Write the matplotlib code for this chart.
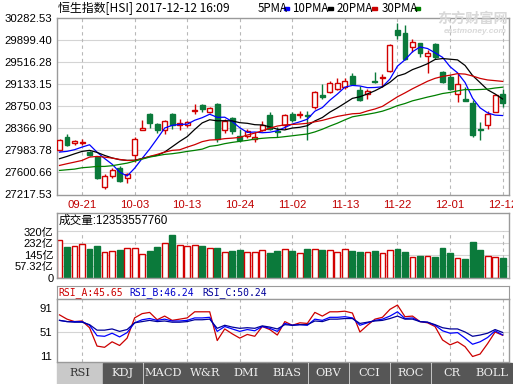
import matplotlib
matplotlib.use('Agg')
import matplotlib.pyplot as plt
from matplotlib.patches import Rectangle

plt.rcParams['font.family'] = ['Liberation Sans', 'Noto Sans CJK SC', 'DejaVu Sans']

# ---------------- data ----------------
dates = ['09-21', '10-03', '10-13', '10-24', '11-02', '11-13', '11-22', '12-01', '12-12']
date_idx = [3, 10, 17, 24, 31, 38, 45, 52, 59]

opens = [27997, 28217, 28119, 28112, 27955, 27868, 27345, 27531, 27683, 27509,
         27910, 28334, 28625, 28439, 28346, 28625, 28433, 28433, 28670, 28782,
         28653, 28800, 28346, 28555, 28229, 28229, 28182, 28334, 28608, 28325,
         28421, 28625, 28595, 28604, 28740, 28944, 29002, 29061, 29079, 29276,
         29032, 28974, 29194, 29236, 29368, 30078, 30021, 29787, 29846, 29625,
         29829, 29351, 29264, 28962, 28887, 28805, 28363, 28421, 28653, 28974]
highs = [28177, 28264, 28172, 28182, 27972, 27880, 27566, 27683, 27718, 27589,
         28217, 28520, 28636, 28461, 28520, 28636, 28538, 28496, 28800, 28800,
         28740, 28810, 28538, 28566, 28364, 28364, 28305, 28491, 28653, 28386,
         28613, 28653, 28670, 28670, 29019, 29136, 29194, 29236, 29236, 29333,
         29102, 29061, 29351, 29311, 29829, 30195, 30166, 29916, 29857, 29730,
         29846, 29368, 29293, 29323, 29089, 28869, 28479, 28670, 28974, 29061]
lows = [27967, 28055, 28072, 28072, 27893, 27484, 27305, 27509, 27427, 27415,
        27790, 28334, 28381, 28287, 28276, 28363, 28346, 28392, 28625, 28653,
        28636, 28130, 28287, 28276, 28130, 28206, 28130, 28316, 28346, 28220,
        28363, 28479, 28555, 28159, 28712, 28887, 28985, 29044, 29061, 29136,
        28845, 28887, 29159, 29089, 29351, 29916, 29555, 29700, 29613, 29334,
        29567, 29159, 29032, 28828, 28845, 28217, 28159, 28363, 28653, 28740]
closes = [28159, 28072, 28142, 28130, 27910, 27509, 27531, 27647, 27444, 27566,
          28180, 28381, 28468, 28346, 28491, 28421, 28461, 28479, 28695, 28712,
          28723, 28189, 28491, 28322, 28172, 28316, 28217, 28433, 28363, 28307,
          28595, 28520, 28625, 28587, 29002, 28918, 29159, 29159, 29189, 29148,
          28869, 29014, 29177, 29253, 29817, 29991, 29567, 29874, 29672, 29682,
          29613, 29177, 29061, 29136, 28845, 28247, 28334, 28621, 28944, 28810]

ma5 = [27955, 27968, 27997, 28042, 28083, 27953, 27844, 27745, 27608, 27539,
       27674, 27844, 28008, 28188, 28373, 28421, 28437, 28440, 28509, 28554,
       28614, 28560, 28562, 28487, 28379, 28298, 28304, 28292, 28300, 28327,
       28383, 28443, 28482, 28527, 28666, 28730, 28858, 28965, 29085, 29115,
       29105, 29076, 29079, 29092, 29226, 29450, 29561, 29700, 29784, 29757,
       29682, 29604, 29441, 29334, 29166, 28893, 28725, 28637, 28598, 28591]
ma10 = [27840, 27880, 27925, 27967, 27985, 27950, 27898, 27854, 27823, 27811,
        27813, 27844, 27877, 27898, 27956, 28048, 28141, 28224, 28349, 28463,
        28518, 28499, 28501, 28498, 28467, 28456, 28432, 28427, 28394, 28353,
        28341, 28374, 28387, 28414, 28497, 28557, 28651, 28724, 28806, 28890,
        28918, 28967, 29022, 29089, 29170, 29278, 29318, 29390, 29438, 29492,
        29566, 29582, 29571, 29559, 29462, 29287, 29164, 29039, 28966, 28879]
ma20 = [27723, 27753, 27781, 27810, 27868, 27880, 27868, 27851, 27828, 27810,
        27810, 27840, 27880, 27915, 27955, 27985, 27995, 28042, 28084, 28137,
        28165, 28171, 28189, 28198, 28211, 28252, 28286, 28325, 28371, 28408,
        28429, 28436, 28444, 28456, 28482, 28507, 28542, 28576, 28600, 28622,
        28629, 28671, 28705, 28751, 28834, 28917, 28985, 29057, 29122, 29187,
        29238, 29271, 29293, 29320, 29312, 29279, 29237, 29210, 29198, 29185]
ma30 = [27636, 27648, 27659, 27683, 27693, 27706, 27706, 27718, 27741, 27763,
        27798, 27833, 27868, 27892, 27915, 27927, 27945, 27967, 27985, 28007,
        28055, 28072, 28102, 28124, 28142, 28159, 28182, 28195, 28205, 28209,
        28224, 28239, 28255, 28270, 28306, 28353, 28408, 28458, 28516, 28569,
        28592, 28613, 28637, 28667, 28711, 28763, 28800, 28847, 28879, 28912,
        28941, 28974, 28993, 29020, 29043, 29040, 29044, 29051, 29070, 29084]

# volume in 亿 (1e8)
volume = [256, 205, 213, 224, 188, 213, 163, 173, 181, 196,
          196, 148, 173, 203, 231, 294, 218, 213, 218, 213,
          193, 198, 163, 175, 183, 163, 168, 181, 160, 173,
          188, 173, 160, 188, 188, 181, 181, 168, 188, 175,
          168, 168, 175, 156, 181, 188, 168, 130, 138, 135,
          130, 198, 156, 123, 113, 243, 181, 138, 130, 123.5]

rsi_a = [79, 72, 68, 69, 58, 28, 26, 35, 29, 41,
         74, 81, 83, 71, 77, 70, 72, 74, 84, 84,
         84, 37, 56, 48, 41, 47, 44, 60, 55, 46,
         68, 62, 66, 65, 83, 77, 84, 84, 85, 82,
         51, 62, 72, 75, 88, 95, 76, 77, 68, 66,
         60, 38, 30, 35, 27, 11, 15, 32, 51, 45.65]
rsi_b = [70, 68, 68, 68, 62, 45, 44, 49, 43, 50,
         66, 71, 73, 70, 72, 69, 69, 70, 74, 74,
         75, 52, 60, 56, 52, 55, 53, 60, 57, 52,
         65, 62, 63, 62, 72, 70, 75, 75, 76, 74,
         62, 66, 70, 72, 77, 84, 73, 74, 68, 67,
         62, 53, 49, 50, 41, 31, 35, 42, 53, 46.24]
rsi_c = [70, 68, 67, 67, 63, 54, 54, 56, 52, 55,
         66, 68, 70, 68, 69, 67, 67, 68, 71, 71,
         72, 57, 62, 59, 57, 58, 57, 61, 59, 56,
         63, 62, 63, 63, 69, 68, 72, 72, 73, 73,
         65, 67, 69, 70, 73, 77, 72, 72, 68, 67,
         63, 58, 56, 56, 51, 44, 46, 49, 55, 50.24]

price_ticks = [27217.53, 27600.66, 27983.78, 28366.90, 28750.03,
               29133.15, 29516.28, 29899.40, 30282.53]
vol_ticks = [-30.24, 57.32, 144.88, 232.44, 320]
vol_labels = ['0', '57.32亿', '145亿', '232亿', '320亿']
rsi_ticks = [11, 51, 91]
tabs = ['RSI', 'KDJ', 'MACD', 'W&R', 'DMI', 'BIAS', 'OBV', 'CCI', 'ROC', 'CR', 'BOLL']

# ---------------- style ----------------
RED = '#d20000'
GREEN = '#0b7a3b'
BORDER = '#9a9a9a'
GRID = '#d4d4d4'
VGRID = '#b8b8b8'
W, H = 513, 384
X0, X1 = 56.5, 509
XLIM = (-0.4, 59.85)

fig = plt.figure(figsize=(W / 100, H / 100), dpi=100)


def ax_px(x0, y0, x1, y1, **kw):
    return fig.add_axes([x0 / W, 1 - y1 / H, (x1 - x0) / W, (y1 - y0) / H], **kw)


def frame(ax, size=8.2):
    for s in ax.spines.values():
        s.set_color(BORDER)
        s.set_linewidth(1)
    ax.set_xlim(*XLIM)
    ax.tick_params(length=0, labelsize=size, pad=3)


n = len(closes)
xs = list(range(n))

# ---------------- main price panel ----------------
ax = ax_px(X0, 18.3, X1, 194.5)
frame(ax)
ax.set_ylim(price_ticks[0], price_ticks[-1])
for v in price_ticks[1:-1]:
    ax.axhline(v, color=GRID, lw=0.8, zorder=0)
for i in date_idx:
    ax.axvline(i, color=VGRID, lw=0.8, ls=(0, (3, 3)), zorder=0)
bw = 0.66
for i in xs:
    o, h, l, c = opens[i], highs[i], lows[i], closes[i]
    up = c >= o
    col = RED if up else GREEN
    ax.vlines(i, l, h, color=col, lw=1, zorder=2)
    bottom, height = min(o, c), max(abs(c - o), 8)
    ax.add_patch(Rectangle((i - bw / 2, bottom), bw, height,
                           facecolor='white' if up else GREEN,
                           edgecolor=col, lw=1, zorder=3))
ax.plot(xs, ma5, color='#0000ff', lw=0.9, zorder=4)
ax.plot(xs, ma10, color='#000000', lw=0.9, zorder=4)
ax.plot(xs, ma20, color='#cc0000', lw=0.9, zorder=4)
ax.plot(xs, ma30, color='#008000', lw=0.9, zorder=4)
ax.set_yticks(price_ticks)
ax.set_yticklabels(['%.2f' % v for v in price_ticks])
ax.set_xticks(date_idx)
ax.set_xticklabels(dates, color='#c00000', fontsize=8.2)
ax.tick_params(axis='x', pad=4)

# ---------------- volume panel ----------------
VBASE = vol_ticks[0]
axv = ax_px(X0, 213, X1, 278)
frame(axv, 8.0)
axv.set_ylim(VBASE, 459.3)
for v in vol_ticks[1:]:
    axv.axhline(v, color=GRID, lw=0.8, zorder=0)
axv.vlines(date_idx, VBASE, 320, color=VGRID, lw=0.8, linestyles=(0, (3, 3)), zorder=0)
fcol = ['white' if closes[i] >= opens[i] else GREEN for i in xs]
ecol = [RED if closes[i] >= opens[i] else GREEN for i in xs]
axv.bar(xs, [v - VBASE for v in volume], bottom=VBASE, width=0.78,
        color=fcol, edgecolor=ecol, lw=1, zorder=2)
axv.set_yticks(vol_ticks)
axv.set_yticklabels(vol_labels)
axv.tick_params(axis='y', pad=2)
axv.set_xticks([])
axv.text(0.004, 0.875, '成交量:12353557760', transform=axv.transAxes,
         fontsize=8.4, va='center', ha='left', color='black')

# ---------------- RSI header ----------------
axh = ax_px(X0, 286, X1, 299)
for s in axh.spines.values():
    s.set_color(BORDER)
axh.set_xticks([])
axh.set_yticks([])
for xp, txt, col in [(58, 'RSI_A:45.65', '#cc0000'), (129, 'RSI_B:46.24', '#0000cc'),
                     (202, 'RSI_C:50.24', '#000099')]:
    axh.text((xp - X0) / (X1 - X0), 0.5, txt, transform=axh.transAxes, color=col,
             fontsize=7.0, family='DejaVu Sans Mono', va='center', ha='left')

# ---------------- RSI panel ----------------
axr = ax_px(X0, 299, X1, 362)
frame(axr)
axr.set_ylim(2.0, 104.9)
axr.axhline(51, color=GRID, lw=0.8, zorder=0)
for i in date_idx:
    axr.axvline(i, color=VGRID, lw=0.8, ls=(0, (3, 3)), zorder=0)
axr.plot(xs, rsi_a, color='#cc0000', lw=0.9)
axr.plot(xs, rsi_b, color='#0000ff', lw=0.9)
axr.plot(xs, rsi_c, color='#000099', lw=0.9)
axr.set_yticks(rsi_ticks)
axr.set_yticklabels([str(v) for v in rsi_ticks])
axr.set_xticks([])

# ---------------- overlay: title, legend, tabs ----------------
bg = fig.add_axes([0, 0, 1, 1], zorder=-1)
bg.set_xlim(0, W)
bg.set_ylim(H, 0)
bg.axis('off')

bg.text(58, 8.5, '恒生指数[HSI] 2017-12-12 16:09', fontsize=8.6, va='center', ha='left',
        family=['Noto Sans CJK SC', 'DejaVu Sans'])
leg = [('5PMA', 258, 284, '#0000ff'), ('10PMA', 292, 328, '#000000'),
       ('20PMA', 337, 372, '#cc0000'), ('30PMA', 382, 415, '#008000')]
for t, xt, xsq, c in leg:
    bg.text(xt, 8.5, t, fontsize=8.3, va='center', ha='left',
            family=['Noto Sans CJK SC', 'DejaVu Sans'])
    bg.add_patch(Rectangle((xsq, 7), 5, 3, color=c))

tab_edges = [(57, 102), (103, 142), (143.5, 183.5), (185, 224.5), (226, 265.5),
             (267, 307), (308.5, 348), (350, 389), (390.5, 430), (432, 471), (472, 512)]
for k, (t, (a, b)) in enumerate(zip(tabs, tab_edges)):
    sel = k == 0
    bg.add_patch(Rectangle((a, 363), b - a, 21, color='#c9c9c9' if sel else '#565656'))
    bg.text((a + b) / 2, 373.5, t, fontsize=8.2, ha='center', va='center',
            color='#333333' if sel else '#f0f0f0', family=['DejaVu Serif'])

# watermark on top of the chart
top = fig.add_axes([0, 0, 1, 1], zorder=20)
top.set_xlim(0, W)
top.set_ylim(H, 0)
top.axis('off')
top.patch.set_alpha(0)
top.text(473, 18.5, '东方财富网', fontsize=10.2, color='#d9d9d9', ha='center', va='center',
         fontweight='bold', family=['Noto Sans CJK SC'])
top.text(475, 31.5, 'eastmoney.com', fontsize=6, color='#d9d9d9', ha='center',
         va='center', fontweight='bold', style='italic')

fig.savefig('out.png', dpi=100)
